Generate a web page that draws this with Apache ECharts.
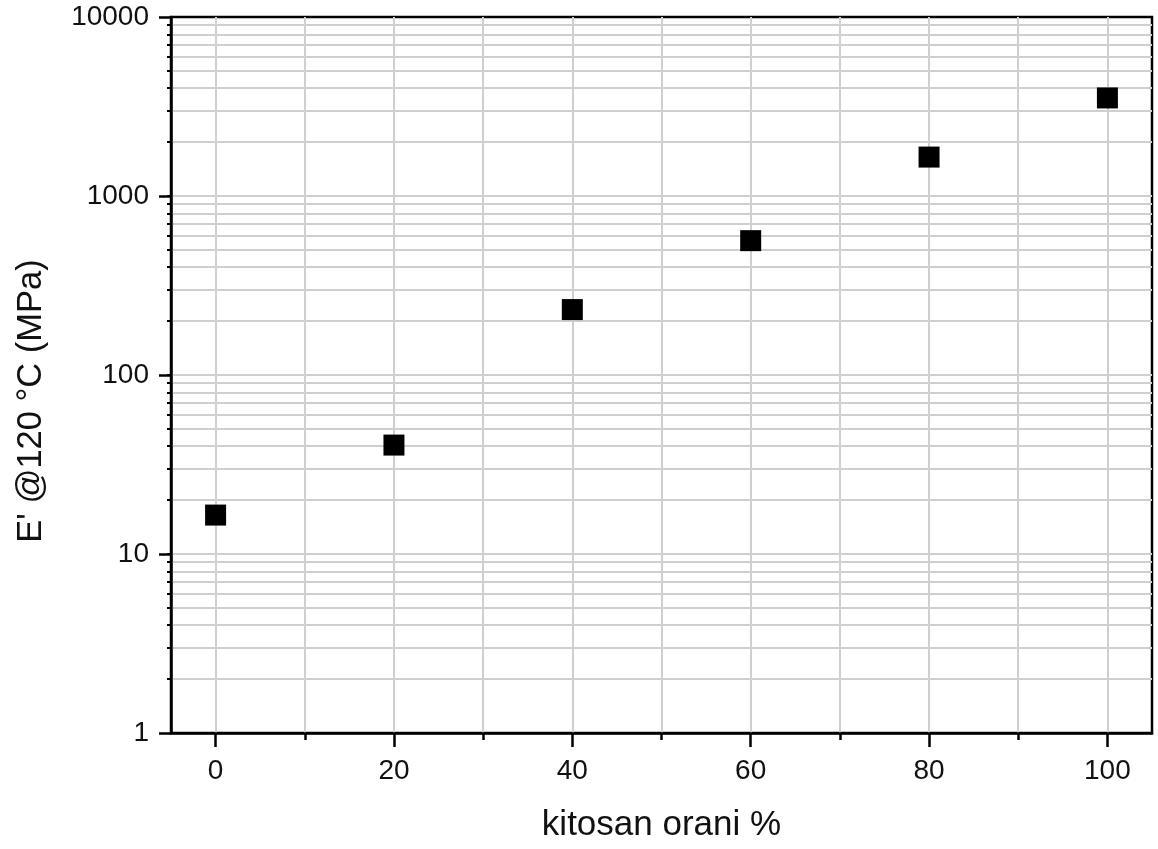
<!DOCTYPE html>
<html>
<head>
<meta charset="utf-8">
<script src="https://cdn.jsdelivr.net/npm/echarts@6/dist/echarts.min.js"></script>
<style>
html,body{margin:0;padding:0;background:#fff;}
#chart{width:1158px;height:849px;}
</style>
</head>
<body>
<div id="chart"></div>
<script>
// Data
const kitosanRatio = [0, 20, 40, 60, 80, 100];
const modulusMPa = [16.5, 40.6, 232, 563, 1650, 3530];

// Tick labels
const xMajorTicks = [0, 20, 40, 60, 80, 100];
const xGridTicks = [0, 10, 20, 30, 40, 50, 60, 70, 80, 90, 100];
const yMajorTicks = [1, 10, 100, 1000, 10000];
const yMinorTicks = [];
[1, 10, 100, 1000].forEach(function (d) {
  for (let k = 1; k <= 9; k++) {
    if (!(d === 1 && k === 1)) yMinorTicks.push(d * k);
  }
});

const xTitle = 'kitosan orani %';
const yTitle = "E' @120 \u00B0C (MPa)";

const font = '"Liberation Sans", Arial, sans-serif';
const chart = echarts.init(document.getElementById('chart'));

chart.setOption({
  backgroundColor: '#fff',
  animation: false,
  grid: {
    left: 171, right: 6, top: 17, bottom: 116,
    show: true, borderColor: '#000', borderWidth: 2.5, backgroundColor: 'transparent'
  },
  xAxis: [
    {
      type: 'value', min: -5, max: 105, position: 'bottom',
      name: xTitle, nameLocation: 'middle', nameGap: 75,
      nameTextStyle: { fontFamily: font, fontSize: 35, color: '#111' },
      axisLine: { show: true, onZero: false, lineStyle: { color: '#000', width: 2.5 } },
      axisTick: { show: true, customValues: xMajorTicks, length: 14, inside: false, lineStyle: { color: '#000', width: 2.5 } },
      axisLabel: { show: true, customValues: xMajorTicks, margin: 24, fontFamily: font, fontSize: 28, color: '#111' },
      splitLine: { show: false }
    },
    {
      type: 'value', min: -5, max: 105, position: 'bottom', gridIndex: 0,
      axisLine: { show: false, onZero: false },
      axisTick: { show: true, customValues: xGridTicks, length: 7, lineStyle: { color: '#000', width: 2.5 } },
      axisLabel: { show: false },
      splitLine: { show: true, lineStyle: { color: '#cfcfcf', width: 2 } }
    }
  ],
  yAxis: [
    {
      type: 'log', logBase: 10, min: 1, max: 10000, position: 'left',
      name: yTitle, nameLocation: 'middle', nameGap: 122,
      nameTextStyle: { fontFamily: font, fontSize: 34.5, color: '#111', padding: [0, 52, 0, 0] },
      axisLine: { show: true, onZero: false, lineStyle: { color: '#000', width: 2.5 } },
      axisTick: { show: true, customValues: yMajorTicks, length: 12, lineStyle: { color: '#000', width: 2.5 } },
      axisLabel: {
        show: true, customValues: yMajorTicks, margin: 22, fontFamily: font, fontSize: 28, color: '#111',
        formatter: function (v) { return String(Math.round(v)); }
      },
      splitLine: { show: false }
    },
    {
      type: 'log', logBase: 10, min: 1, max: 10000, position: 'left', gridIndex: 0,
      axisLine: { show: false, onZero: false },
      axisTick: { show: true, customValues: yMinorTicks, length: 4, lineStyle: { color: '#000', width: 2 } },
      axisLabel: { show: false },
      splitLine: { show: true, lineStyle: { color: '#cfcfcf', width: 2 } }
    }
  ],
  series: [
    {
      type: 'scatter',
      xAxisIndex: 0, yAxisIndex: 0,
      symbol: 'rect', symbolSize: 21,
      itemStyle: { color: '#000', opacity: 1 },
      z: 10,
      data: kitosanRatio.map(function (x, i) { return [x, modulusMPa[i]]; })
    }
  ]
});
</script>
</body>
</html>
